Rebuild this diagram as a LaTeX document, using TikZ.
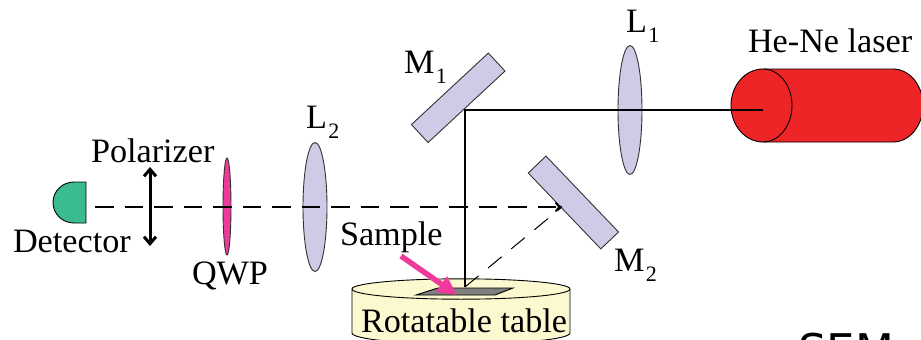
\documentclass[tikz,border=0pt]{standalone}
\usepackage{fontspec}
\setmainfont{Liberation Serif}
\newfontfamily\semfont{DejaVu Sans}
\usetikzlibrary{arrows.meta,positioning,shapes.geometric}
\definecolor{lenscol}{HTML}{CDCBE6}
\definecolor{qwpcol}{HTML}{EE3A9A}
\definecolor{detcol}{HTML}{3ABB92}
\definecolor{lasercol}{HTML}{EE2527}
\definecolor{tablecol}{HTML}{FCF8CF}
\newcommand{\lowsub}[1]{\kern1.5pt\raisebox{-10pt}{\fontsize{22}{22}\selectfont #1}}

\begin{document}
\begin{tikzpicture}[
  x=1pt,y=-1pt,
  font=\fontsize{34.2}{37}\selectfont,
  every node/.style={inner sep=0pt,outer sep=0pt},
  lbl/.style={anchor=base west},
  lens/.style={ellipse,draw=black!80,line width=0.9pt,fill=lenscol,minimum width=24pt,minimum height=129pt},
  mirror/.style={rectangle,draw=black!80,line width=0.9pt,fill=lenscol,minimum width=105pt,minimum height=24.5pt},
  beam/.style={line width=1.9pt},
  retbeam/.style={line width=1.9pt,dash pattern=on 18.5pt off 11pt},
  thinret/.style={line width=1pt,dash pattern=on 17.5pt off 12.5pt},
  outline/.style={draw=black,line width=0.9pt}
]
\useasboundingbox (0,0) rectangle (921,340);
\clip (0,0) rectangle (921,340);

% table and sample
\path[outline,fill=tablecol] (352,289) -- (352,333) arc[start angle=180,end angle=0,x radius=109,y radius=11] -- (570,289) arc[start angle=0,end angle=-180,x radius=109,y radius=10.2] -- cycle;
\path[outline] (352,289) arc[start angle=180,end angle=0,x radius=109,y radius=10.2];
\path[outline,fill=black!50] (416,295) -- (438,288) -- (513,288) -- (495,295) -- cycle;
\coordinate (spot) at (465,287);

% laser
\path[outline,fill=lasercol] (763,69) -- (893,69) arc[start angle=-90,end angle=90,x radius=30,y radius=36.5] -- (763,142) arc[start angle=90,end angle=270,x radius=32,y radius=36.5] -- cycle;
\path[outline] (763,69) arc[start angle=-90,end angle=90,x radius=29,y radius=36.5];
\coordinate (laser) at (763,110);

% detector
\path[outline,fill=detcol] (86,182) -- (74,182) arc[start angle=-90,end angle=-270,x radius=21,y radius=20.5] -- (86,223) -- cycle;
\coordinate (det) at (95,207);

% optics
\node[lens] (lensA) at (630,110) {};
\node[lens] (lensB) at (315,207) {};
\node[lens,fill=qwpcol,minimum width=8pt,minimum height=97pt] (qwp) at (227,206.5) {};
\node[mirror,rotate=42.9] (mirA) at (458.2,97.8) {};
\node[mirror,rotate=-46.3] (mirB) at (573.4,202.5) {};
\coordinate (turn) at (465,110);
\coordinate (hit) at (562,207);
\coordinate (polT) at (150,167);
\coordinate (polB) at (150,246);
\coordinate (pinkA) at (401,256);
\coordinate (pinkB) at (457,295);

% beams
\draw[beam] (laser) -- (turn) -- (spot);
\draw[retbeam,-{To[length=7pt,width=10pt]}] (det) -- (hit);
\draw[thinret] (spot) -- (hit);
\draw[line width=3pt,{Straight Barb[length=7pt,width=12pt]}-{Straight Barb[length=7pt,width=12pt]}] (polT) -- (polB);
\draw[line width=5.5pt,draw=qwpcol,-{Triangle[length=19pt,width=18pt]}] (pinkA) -- (pinkB);

% labels
\node[lbl] (polLbl) at (91,162) {Polarizer};
\node[lbl] (detLbl) at (13,252) {Detector};
\node[lbl] (qwpLbl) at (192,284) {QWP};
\node[lbl] (lensBLbl) at (306,128) {L\lowsub{2}};
\node[lbl] (mirALbl) at (404,73) {M\lowsub{1}};
\node[lbl] (lensALbl) at (626,32) {L\lowsub{1}};
\node[lbl] (laserLbl) at (748,52) {He-Ne laser};
\node[lbl] (sampLbl) at (340,245) {Sample};
\node[lbl] (mirBLbl) at (614,271) {M\lowsub{2}};
\node[lbl] (tableLbl) at (361,332) {Rotatable table};
\node[lbl,font=\semfont\fontsize{45}{48}\selectfont] (semLbl) at (798,366) {SEM};
\end{tikzpicture}
\end{document}
